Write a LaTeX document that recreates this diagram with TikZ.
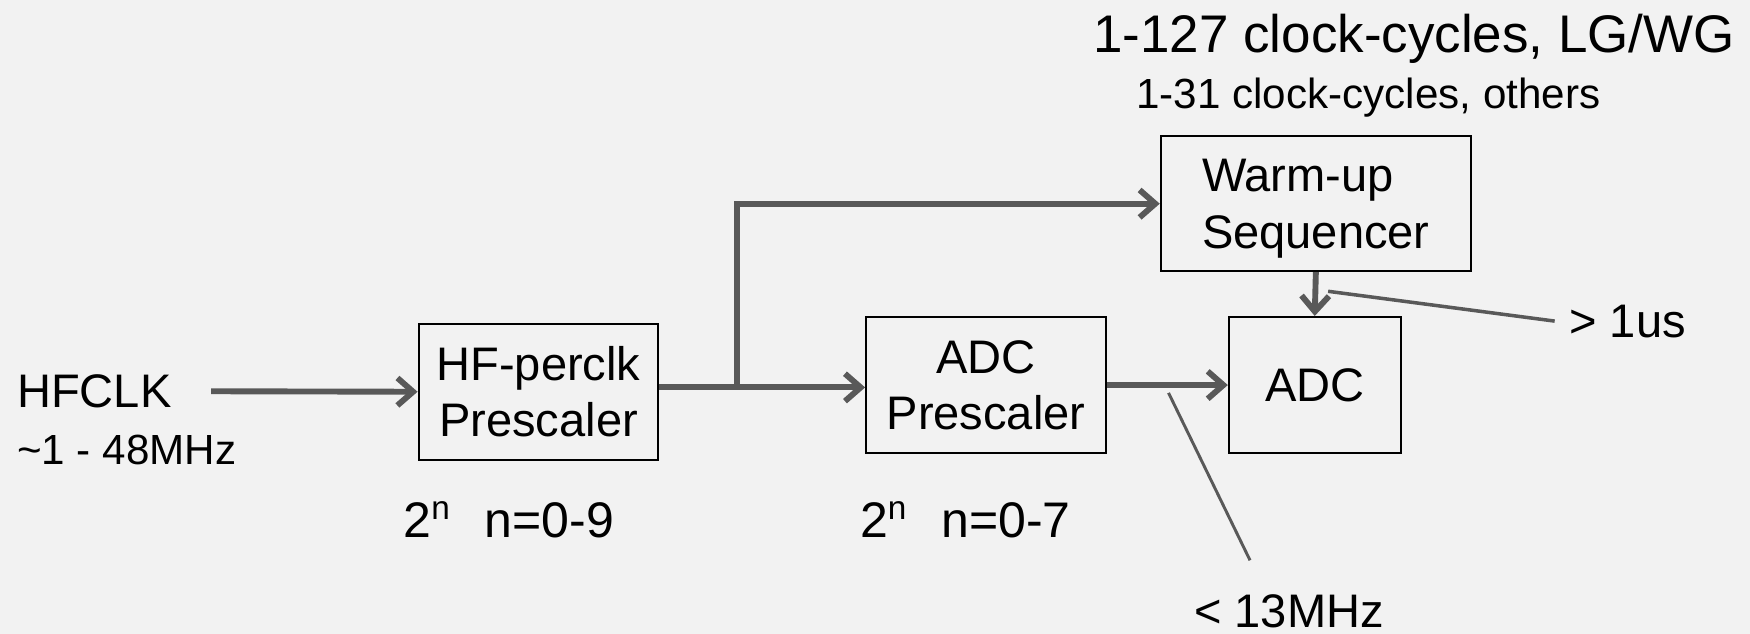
\documentclass[tikz,border=0pt]{standalone}
\usepackage{fontspec}
\setmainfont{Liberation Sans}
\usetikzlibrary{arrows.meta, positioning, calc}
\definecolor{bggray}{RGB}{242,242,242}
\definecolor{wiregray}{RGB}{89,89,89}
\newcommand{\pwrtwo}[1]{2\raisebox{0.37em}{\fontsize{17}{17}\selectfont n}\hspace{0.7em}n=0-#1}

\begin{document}
\begin{tikzpicture}[x=0.02cm, y=-0.02cm,
    blk/.style={draw=black, line width=1pt, align=center, inner sep=0pt,
      font=\fontsize{24}{28.5}\selectfont},
    lbl/.style={font=\fontsize{24}{28}\selectfont},
    wire/.style={draw=wiregray, line width=3pt,
      -{Straight Barb[length=8pt, width=14pt]}},
    note/.style={draw=wiregray, line width=1.8pt}]
  \fill[bggray] (0,0) rectangle (1568,568);
  \useasboundingbox (0,0) rectangle (1568,568);

  % blocks
  \node[blk, minimum width=4.3cm, minimum height=2.44cm] (hfpre) at (482.5,351) {HF-perclk\\Prescaler};
  \node[blk, minimum width=4.3cm, minimum height=2.44cm] (adcpre) at (883.5,345) {ADC\\Prescaler};
  \node[blk, minimum width=3.08cm, minimum height=2.44cm] (adc) at (1178,345) {ADC};
  \node[blk, align=left, minimum width=5.56cm, minimum height=2.42cm,
    font=\fontsize{24}{29}\selectfont] (warm) at (1179,182.5) {\rule{0pt}{22pt}Warm-up\\Sequencer};

  % input clock
  \node[lbl, anchor=base west, inner sep=0pt] (hfclk) at (15,365) {HFCLK};
  \node[anchor=base west, inner sep=0pt, font=\fontsize{21.5}{25}\selectfont] (hfrange) at (15,416) {\textasciitilde1 - 48MHz};

  % divider ranges
  \node[anchor=base, font=\fontsize{25.5}{30}\selectfont] (hfdiv) at (456,482) {\pwrtwo{9}};
  \node[anchor=base, font=\fontsize{25.5}{30}\selectfont] (adcdiv) at (865,482) {\pwrtwo{7}};

  % warm-up notes
  \node[anchor=base, font=\fontsize{27}{32}\selectfont] (lgwg) at (1267,47) {1-127 clock-cycles, LG/WG};
  \node[anchor=base, font=\fontsize{21.5}{25}\selectfont] (others) at (1226,97) {1-31 clock-cycles, others};

  % timing notes
  \node[lbl, anchor=base west] (us) at (1400,302) {> 1us};
  \node[lbl, anchor=base, inner sep=0pt] (mhz) at (1155,562) {< 13MHz};
  \coordinate (ustap) at (1190,261);
  \coordinate (mhztap) at (1047,352);
  \coordinate (mhzend) at (1120,502);

  % clock paths
  \draw[wire, shorten <=20pt] (hfclk.east) -- (hfpre.west);
  \coordinate (hfout) at ([yshift=2.2pt]hfpre.east);
  \coordinate (split) at (660,0 |- hfout);
  \draw[wire] (hfout) -- (adcpre.west |- hfout);
  \draw[wire] (split) |- (warm.west);
  \draw[wire] (adcpre.east) -- (adc.west);
  \draw[wire] (warm.south) -- (adc.north);

  \draw[note] (ustap) -- ([xshift=-4pt]us.west);
  \draw[note, line width=1.5pt] (mhztap) -- (mhzend);
\end{tikzpicture}
\end{document}
